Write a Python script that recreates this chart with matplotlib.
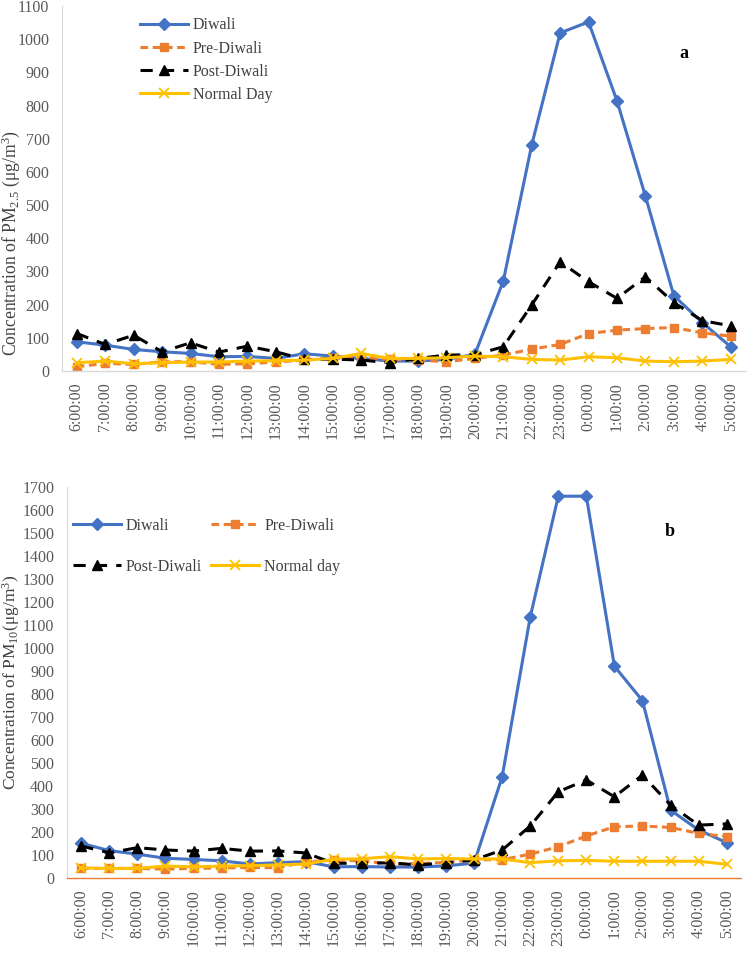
import matplotlib
matplotlib.use("Agg")
import matplotlib.pyplot as plt

plt.rcParams['font.family'] = ['Liberation Serif', 'DejaVu Serif']
plt.rcParams['mathtext.fontset'] = 'custom'
plt.rcParams['mathtext.rm'] = 'Liberation Serif'
plt.rcParams['mathtext.it'] = 'Liberation Serif:italic'

hours = ['6:00:00', '7:00:00', '8:00:00', '9:00:00', '10:00:00', '11:00:00',
         '12:00:00', '13:00:00', '14:00:00', '15:00:00', '16:00:00', '17:00:00',
         '18:00:00', '19:00:00', '20:00:00', '21:00:00', '22:00:00', '23:00:00',
         '0:00:00', '1:00:00', '2:00:00', '3:00:00', '4:00:00', '5:00:00']

# PM2.5 (panel a)
pm25_diwali = [88, 78, 65, 58, 53, 43, 44, 38, 52, 45, 38, 30,
               30, 35, 50, 271, 681, 1019, 1052, 814, 527, 227, 146, 73]
pm25_pre = [13, 23, 20, 28, 28, 20, 22, 27, 33, 38, 40, 35,
            33, 28, 38, 48, 66, 80, 113, 123, 128, 131, 115, 105]
pm25_post = [113, 80, 108, 58, 85, 57, 75, 58, 35, 36, 33, 25,
             38, 48, 49, 73, 199, 329, 269, 219, 284, 206, 152, 136]
pm25_normal = [25, 30, 22, 25, 27, 27, 30, 31, 33, 38, 53, 38,
               38, 40, 45, 43, 35, 33, 43, 40, 30, 28, 30, 35]

# PM10 (panel b)
pm10_diwali = [152, 120, 105, 87, 82, 76, 62, 68, 72, 50, 51, 49,
               49, 54, 66, 441, 1135, 1659, 1659, 921, 771, 296, 210, 155]
pm10_pre = [43, 43, 43, 40, 43, 45, 47, 46, 71, 79, 76, 62,
            64, 69, 80, 81, 105, 137, 184, 224, 227, 221, 195, 181]
pm10_post = [140, 111, 133, 123, 118, 130, 118, 119, 110, 65, 66, 67,
             58, 67, 80, 123, 227, 376, 427, 354, 448, 318, 231, 236]
pm10_normal = [45, 43, 43, 53, 50, 53, 55, 58, 62, 83, 85, 94,
               84, 86, 84, 84, 68, 76, 78, 74, 74, 74, 74, 61]

BLUE = '#4472C4'
ORANGE = '#ED7D31'
GOLD = '#FFC000'
GREY_TXT = '#595959'
DARK_TXT = '#404040'


def draw_series(ax, diwali, pre, post, normal, normal_name):
    x = range(len(hours))
    h1, = ax.plot(x, diwali, color=BLUE, lw=2.2, marker='D', ms=6,
                  label='Diwali')
    h2, = ax.plot(x, pre, color=ORANGE, lw=2.2, ls=(0, (2.5, 1.5)),
                  marker='s', ms=5.5, label='Pre-Diwali')
    h3, = ax.plot(x, post, color='black', lw=2.2, ls=(0, (4, 3)), marker='^',
                  ms=6.5, label='Post-Diwali')
    h4, = ax.plot(x, normal, color=GOLD, lw=2.2, marker='x', ms=7, mew=1.3,
                  label=normal_name)
    return [h1, h2, h3, h4]


def style_axis(ax, ymax, bottom_color):
    ax.set_ylim(0, ymax)
    ax.set_yticks(range(0, ymax + 1, 100))
    ax.set_xlim(-0.52, 23.5)
    ax.set_xticks(range(len(hours)))
    ax.set_xticklabels(hours, rotation=90)
    ax.tick_params(axis='both', length=0, labelsize=11.5, colors=GREY_TXT)
    ax.tick_params(axis='x', pad=8)
    ax.tick_params(axis='y', pad=9)
    for side in ['top', 'right']:
        ax.spines[side].set_visible(False)
    ax.spines['left'].set_color('#d9d9d9')
    ax.spines['bottom'].set_color(bottom_color)
    ax.spines['bottom'].set_linewidth(1.0)


fig = plt.figure(figsize=(7.48, 9.55), dpi=100)

# panel a
ax1 = fig.add_axes([0.0829, 0.6115, 0.913, 0.3822])
handles1 = draw_series(ax1, pm25_diwali, pm25_pre, pm25_post, pm25_normal,
                       'Normal Day')
style_axis(ax1, 1100, '#d9d9d9')
ax1.set_ylabel(r'Concentration of PM$_{2.5}$ (μg/m$^{3}$)', fontsize=12.7,
               color=DARK_TXT)
ax1.yaxis.set_label_coords(-0.058, 0.35)
leg1 = ax1.legend(handles=handles1, loc='upper left',
                  bbox_to_anchor=(0.1, 0.995), frameon=False,
                  fontsize=11.5, handlelength=3.0, labelspacing=0.45,
                  handletextpad=0.3, borderaxespad=0.2)
for t in leg1.get_texts():
    t.set_color(DARK_TXT)
ax1.text(0.91, 0.87, 'a', transform=ax1.transAxes, fontsize=13,
         fontweight='bold', ha='center', va='center')

# panel b
ax2 = fig.add_axes([0.0892, 0.0803, 0.901, 0.410])
h = draw_series(ax2, pm10_diwali, pm10_pre, pm10_post, pm10_normal,
                'Normal day')
style_axis(ax2, 1700, ORANGE)
ax2.set_ylabel(r'Concentration of PM$_{10}$(μg/m$^{3}$)', fontsize=12.5,
               color=DARK_TXT)
ax2.yaxis.set_label_coords(-0.066, 0.5)
# two columns, filled row by row: Diwali | Pre-Diwali / Post-Diwali | Normal
leg2 = ax2.legend(handles=[h[0], h[2], h[1], h[3]], loc='upper left',
                  bbox_to_anchor=(-0.005, 0.945), frameon=False,
                  ncol=2, fontsize=11.5, handlelength=3.0, labelspacing=1.55,
                  handletextpad=0.3, columnspacing=0.6, borderaxespad=0.2)
for t in leg2.get_texts():
    t.set_color(DARK_TXT)
ax2.text(0.895, 0.885, 'b', transform=ax2.transAxes, fontsize=13,
         fontweight='bold', ha='center', va='center')

fig.savefig('out.png', dpi=100)
